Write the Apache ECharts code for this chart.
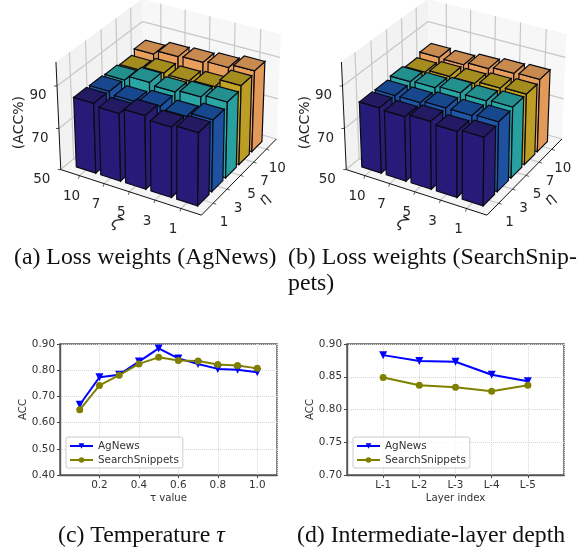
<!DOCTYPE html>
<html><head><meta charset="utf-8"><style>html,body{margin:0;padding:0;background:#fff}#c{width:587px;height:551px}</style>
<script src="https://cdn.jsdelivr.net/npm/echarts@6/dist/echarts.min.js"></script></head><body><div id="c"></div>
<script>
// ---- data ----
const zetaLabels = ['10','7','5','3','1'];
const etaLabels = ['1','3','5','7','10'];
const zTicks = [50,70,90];
// rows: one per eta, columns: one per zeta
const accA_eta1  = [83.5,82.3,84.9,83.2,84.3];
const accA_eta3  = [83.3,82.0,83.2,82.0,84.0];
const accA_eta5  = [82.9,85.1,84.0,85.1,86.2];
const accA_eta7  = [82.1,83.9,83.5,84.1,88.0];
const accA_eta10 = [84.2,86.2,86.7,87.5,89.2];
const accB_eta1  = [81.4,80.8,82.2,81.2,82.2];
const accB_eta3  = [81.3,81.4,82.4,82.4,83.1];
const accB_eta5  = [82.1,82.6,83.6,83.3,83.9];
const accB_eta7  = [81.0,82.3,82.3,83.4,84.0];
const accB_eta10 = [82.6,82.3,83.7,84.7,85.2];
const tauValues = [0.1,0.2,0.3,0.4,0.5,0.6,0.7,0.8,0.9,1.0];
const tauAgNews = [0.668,0.773,0.783,0.833,0.883,0.845,0.824,0.805,0.802,0.792];
const tauSnippets = [0.649,0.742,0.781,0.824,0.849,0.837,0.835,0.822,0.818,0.807];
const layerLabels = ['L-1','L-2','L-3','L-4','L-5'];
const layerAgNews = [0.883,0.874,0.873,0.853,0.843];
const layerSnippets = [0.849,0.837,0.834,0.828,0.837];

// ---- palette ----
const rowFront = ['#261b78','#1f56a6','#2aa6a5','#c4a426','#e99f5c'];
const rowSide  = ['#281d72','#1e52a0','#28a09f','#bd9e25','#e39a58'];
const rowTop   = ['#231a64','#17488e','#23908e','#a58c1f','#c88a4e'];

// ---- matplotlib style camera ----
const XLIM=[-0.37,5.17], YLIM=[-0.42,5.22], ZLIM=[50,101];
const BOX=[1.1428,1.1428,0.857];
const BARW=0.8;
function camera(tx,ty){
  const el=29.5*Math.PI/180, az=-60*Math.PI/180, d=10, S=1410, SY=1.01;
  const c=BOX.map(b=>b/2);
  const w=[Math.cos(el)*Math.cos(az),Math.cos(el)*Math.sin(az),Math.sin(el)];
  const eye=[c[0]+d*w[0],c[1]+d*w[1],c[2]+d*w[2]];
  let u=[-w[1],w[0],0]; const n=Math.hypot(u[0],u[1]); u=[u[0]/n,u[1]/n,0];
  const v=[w[1]*u[2]-w[2]*u[1],w[2]*u[0]-w[0]*u[2],w[0]*u[1]-w[1]*u[0]];
  const dot=(a,b)=>a[0]*b[0]+a[1]*b[1]+a[2]*b[2];
  return function(x,y,z){
    const P=[(x-XLIM[0])/(XLIM[1]-XLIM[0])*BOX[0],(y-YLIM[0])/(YLIM[1]-YLIM[0])*BOX[1],(z-ZLIM[0])/(ZLIM[1]-ZLIM[0])*BOX[2]];
    const r=[P[0]-eye[0],P[1]-eye[1],P[2]-eye[2]];
    const k=-dot(w,r);
    return [tx+S*dot(u,r)/k, ty-S*SY*dot(v,r)/k];
  };
}
const poly=(pts,fill,stroke,lw)=>({type:'polygon',shape:{points:pts},style:{fill:fill,stroke:stroke||null,lineWidth:lw||0}});
const seg=(a,b,col,lw)=>({type:'line',shape:{x1:a[0],y1:a[1],x2:b[0],y2:b[1]},style:{stroke:col,lineWidth:lw,fill:null}});
const txt=(p,s,size,rot,extra)=>({type:'text',x:p[0],y:p[1],rotation:rot||0,style:Object.assign({text:s,fontFamily:'DejaVu Sans',fontSize:size,fill:'#262626',align:'center',verticalAlign:'middle'},extra||{})});

function frameSeries(tx,ty,zName){
  const p=camera(tx,ty), [x0,x1]=XLIM,[y0,y1]=YLIM,[z0,z1]=ZLIM;
  return {type:'custom',coordinateSystem:'none',silent:true,clip:false,animation:false,z:1,data:[[0]],
    renderItem(){
      const ch=[];
      ch.push(poly([p(x0,y0,z0),p(x0,y1,z0),p(x0,y1,z1),p(x0,y0,z1)],'#f2f2f2'));
      ch.push(poly([p(x0,y1,z0),p(x1,y1,z0),p(x1,y1,z1),p(x0,y1,z1)],'#f7f7f7'));
      ch.push(poly([p(x0,y0,z0),p(x1,y0,z0),p(x1,y1,z0),p(x0,y1,z0)],'#f5f5f5'));
      const g='#c8c8c8';
      zetaLabels.forEach((s,i)=>{const x=i+BARW/2;
        ch.push(seg(p(x,y0,z0),p(x,y1,z0),g,1.2),seg(p(x,y1,z0),p(x,y1,z1),g,1.2));
        const a=p(x,y0,z0);
        ch.push(seg(a,[a[0]-1,a[1]+3],'#333',0.8));
        ch.push(txt([a[0]-8,a[1]+21],s,13.5));
      });
      etaLabels.forEach((s,j)=>{const y=j+BARW/2;
        ch.push(seg(p(x0,y,z0),p(x1,y,z0),g,1.2),seg(p(x0,y,z0),p(x0,y,z1),g,1.2));
        const a=p(x1,y,z0);
        ch.push(seg(a,[a[0]+3,a[1]+1],'#333',0.8));
        ch.push(txt([a[0]+11,a[1]+19],s,13.5));
      });
      zTicks.forEach(z=>{
        ch.push(seg(p(x0,y0,z),p(x0,y1,z),g,1.2),seg(p(x0,y1,z),p(x1,y1,z),g,1.2));
        const a=p(x0,y0,z);
        ch.push(seg(a,[a[0]-3,a[1]],'#222',0.8));
        ch.push(txt([a[0]-19,a[1]+10],String(z),13.5));
      });
      ch.push(seg(p(x0,y0,z0),p(x0,y0,z1),'#111',1),seg(p(x0,y0,z0),p(x1,y0,z0),'#111',1),seg(p(x1,y0,z0),p(x1,y1,z0),'#111',1));
      const t=p(x0,y0,z0);
      ch.push(txt([t[0]-41,t[1]-47],zName,14,Math.PI/2));
      ch.push(txt([t[0]+55,t[1]+54],'ζ',16,-Math.PI/6,{fontStyle:'italic'}));
      ch.push(txt([t[0]+204,t[1]+30],'η',15,Math.PI/3.6,{fontStyle:'italic'}));
      return {type:'group',children:ch};
    }};
}
function barSeries(tx,ty,rows){
  const p=camera(tx,ty);
  const data=[];
  for(let j=rows.length-1;j>=0;j--) for(let i=0;i<rows[j].length;i++) data.push([i,j,rows[j][i]]);
  return {type:'custom',coordinateSystem:'none',silent:true,clip:false,animation:false,z:2,data:data,dimensions:['zeta','eta','acc'],
    renderItem(params,api){
      const i=api.value(0),j=api.value(1),v=api.value(2),z0=ZLIM[0],a=i,b=i+BARW,c=j,d=j+BARW;
      return {type:'group',children:[
        poly([p(a,c,z0),p(b,c,z0),p(b,c,v),p(a,c,v)],rowFront[j],'#0a0a14',1.2),
        poly([p(b,c,z0),p(b,d,z0),p(b,d,v),p(b,c,v)],rowSide[j],'#0a0a14',1.2),
        poly([p(a,c,v),p(b,c,v),p(b,d,v),p(a,d,v)],rowTop[j],'#0a0a14',1.2)
      ]};
    }};
}
const TICK={color:'#333',fontSize:10.4,fontFamily:'DejaVu Sans',margin:5};
const axisCommon={axisLine:{show:true,onZero:false,lineStyle:{color:'#555',width:1.4}},axisTick:{show:true,length:3,lineStyle:{color:'#444'}},
  splitLine:{show:true,lineStyle:{color:'#d8d8d8',type:'dotted',width:1}},nameTextStyle:{color:'#333',fontSize:10.2,fontFamily:'DejaVu Sans'},nameLocation:'middle',axisLabel:TICK};
function lineSeries(name,data,color,symbol,rot,gi){
  return {type:'line',name,data,xAxisIndex:gi,yAxisIndex:gi,symbol,symbolRotate:rot,symbolSize:symbol==='circle'?7:8,showSymbol:true,animation:false,
    lineStyle:{color,width:2},itemStyle:{color},z:5};
}
const legendBase={orient:'vertical',itemWidth:23,itemHeight:7,itemGap:4,padding:[4,4,3,3],borderColor:'#ccc',borderWidth:1,borderRadius:2,backgroundColor:'rgba(255,255,255,0.8)',
  textStyle:{color:'#333',fontSize:10.4,fontFamily:'DejaVu Sans'},z:10,data:['AgNews','SearchSnippets']};
const cap={fontFamily:'Liberation Serif',fontSize:23.8,fontWeight:'normal',color:'#111',lineHeight:26};
const chart=echarts.init(document.getElementById('c'),null,{renderer:'canvas'});
chart.setOption({
  animation:false,backgroundColor:'#fff',
  title:[
    {text:'(a) Loss weights (AgNews)',left:14,top:245,padding:0,textStyle:cap},
    {text:'(b) Loss weights (SearchSnip-\npets)',left:288,top:245,padding:0,textStyle:cap},
    {text:'(c) Temperature {i|τ}',left:58,top:523,padding:0,textStyle:Object.assign({},cap,{rich:{i:{fontFamily:'Liberation Serif',fontStyle:'italic',fontSize:23.8}}})},
    {text:'(d) Intermediate-layer depth',left:297,top:523,padding:0,textStyle:cap}
  ],
  grid:[
    {left:60,top:344,width:217,height:131,show:true,borderColor:'#555',borderWidth:1.4,backgroundColor:'transparent'},
    {left:347,top:344,width:217,height:131,show:true,borderColor:'#555',borderWidth:1.4,backgroundColor:'transparent'}
  ],
  xAxis:[
    Object.assign({},axisCommon,{type:'value',gridIndex:0,min:0,max:1.1,interval:0.2,name:'τ value',nameGap:18,
      axisLabel:Object.assign({},TICK,{showMinLabel:false,showMaxLabel:false,formatter:v=>v.toFixed(1)})}),
    Object.assign({},axisCommon,{type:'value',gridIndex:1,min:0,max:6,interval:1,name:'Layer index',nameGap:18,
      axisLabel:Object.assign({},TICK,{showMinLabel:false,showMaxLabel:false,formatter:v=>layerLabels[v-1]||''})})
  ],
  yAxis:[
    Object.assign({},axisCommon,{type:'value',gridIndex:0,min:0.4,max:0.9,interval:0.1,name:'ACC',nameGap:25,axisLabel:Object.assign({},TICK,{formatter:v=>v.toFixed(2)})}),
    Object.assign({},axisCommon,{type:'value',gridIndex:1,min:0.7,max:0.9,interval:0.05,name:'ACC',nameGap:25,axisLabel:Object.assign({},TICK,{formatter:v=>v.toFixed(2)})})
  ],
  legend:[
    Object.assign({},legendBase,{left:66,top:437}),
    Object.assign({},legendBase,{left:353,top:437})
  ],
  series:[
    frameSeries(170.5,102,'(ACC%)'),
    barSeries(170.5,102,[accA_eta1,accA_eta3,accA_eta5,accA_eta7,accA_eta10]),
    frameSeries(456,102,'(ACC%)'),
    barSeries(456,102,[accB_eta1,accB_eta3,accB_eta5,accB_eta7,accB_eta10]),
    lineSeries('AgNews',tauValues.map((x,i)=>[x,tauAgNews[i]]),'#0000ff','triangle',180,0),
    lineSeries('SearchSnippets',tauValues.map((x,i)=>[x,tauSnippets[i]]),'#808000','circle',0,0),
    lineSeries('AgNews',layerLabels.map((x,i)=>[i+1,layerAgNews[i]]),'#0000ff','triangle',180,1),
    lineSeries('SearchSnippets',layerLabels.map((x,i)=>[i+1,layerSnippets[i]]),'#808000','circle',0,1)
  ]
});
</script></body></html>
